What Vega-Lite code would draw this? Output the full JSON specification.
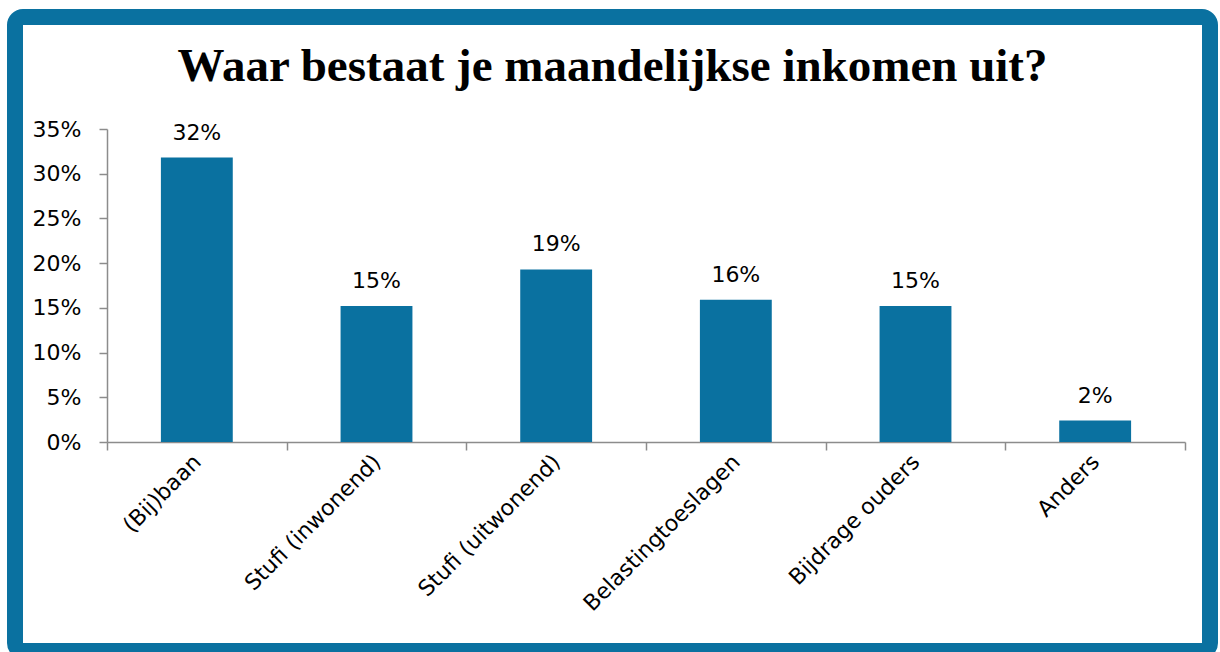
{
  "$schema": "https://vega.github.io/schema/vega-lite/v6.json",
  "autosize": {"type": "none"},
  "padding": {"left": 15, "top": 17, "right": 10, "bottom": 1},
  "width": 1195,
  "height": 634,
  "background": "white",
  "view": {"fill": "white", "stroke": "#0a71a0", "strokeWidth": 16, "cornerRadius": 8},
  "title": {
    "text": "Waar bestaat je maandelijkse inkomen uit?",
    "font": "Liberation Serif",
    "fontSize": 47,
    "fontWeight": "bold",
    "color": "#000000",
    "anchor": "middle",
    "baseline": "alphabetic",
    "offset": -66,
    "dy": 45
  },
  "data": {
    "values": [
      {"bron": "(Bij)baan", "aandeel": 0.318},
      {"bron": "Stufi (inwonend)", "aandeel": 0.152},
      {"bron": "Stufi (uitwonend)", "aandeel": 0.193},
      {"bron": "Belastingtoeslagen", "aandeel": 0.159},
      {"bron": "Bijdrage ouders", "aandeel": 0.152},
      {"bron": "Anders", "aandeel": 0.024}
    ]
  },
  "encoding": {
    "x": {
      "field": "bron",
      "type": "nominal",
      "sort": null,
      "scale": {"range": [92, 1170], "paddingInner": 0, "paddingOuter": 0},
      "axis": {
        "title": null,
        "orient": "bottom",
        "offset": -209,
        "labelAngle": -45,
        "labelAlign": "right",
        "labelBaseline": "middle",
        "labelFont": "DejaVu Sans",
        "labelFontSize": 22,
        "labelColor": "#000000",
        "labelPadding": 8,
        "labelLimit": 400,
        "tickBand": "extent",
        "tickSize": 8,
        "tickColor": "#8c8c8c",
        "tickWidth": 1.5,
        "domainColor": "#8c8c8c",
        "domainWidth": 1.5
      }
    },
    "y": {
      "field": "aandeel",
      "type": "quantitative",
      "scale": {"domain": [0, 0.35], "range": [425, 112], "nice": false, "zero": true},
      "axis": {
        "title": null,
        "orient": "left",
        "offset": -92,
        "values": [0, 0.05, 0.1, 0.15, 0.2, 0.25, 0.3, 0.35],
        "format": ".0%",
        "grid": false,
        "labelFont": "DejaVu Sans",
        "labelFontSize": 22,
        "labelColor": "#000000",
        "labelPadding": 18,
        "tickSize": 8,
        "tickColor": "#8c8c8c",
        "tickWidth": 1.5,
        "domainColor": "#8c8c8c",
        "domainWidth": 1.5
      }
    }
  },
  "layer": [
    {"mark": {"type": "bar", "color": "#0a71a0", "width": {"band": 0.4}}},
    {
      "mark": {"type": "text", "baseline": "alphabetic", "dy": -18, "font": "DejaVu Sans", "fontSize": 22, "color": "#000000"},
      "encoding": {"text": {"field": "aandeel", "type": "quantitative", "format": ".0%"}}
    }
  ]
}
